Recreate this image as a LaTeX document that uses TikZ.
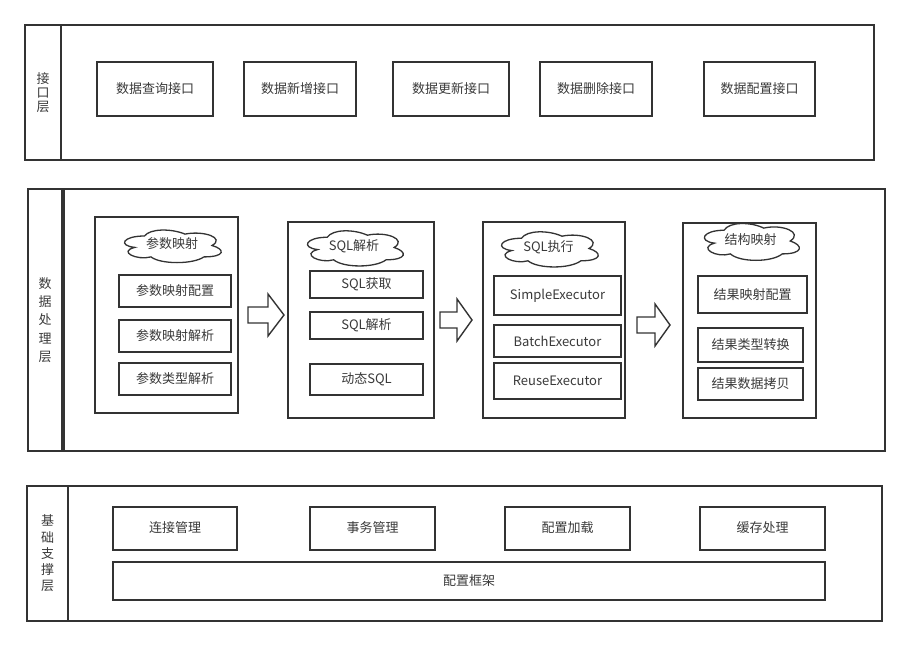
\documentclass[tikz,border=0pt]{standalone}
\usepackage{fontspec}
\newfontfamily\cjk{Noto Sans CJK SC}
\definecolor{ln}{HTML}{333333}
\definecolor{tx}{HTML}{3A3A3A}
\tikzset{
  outer/.style={draw=ln, line width=2pt, rectangle, inner sep=0pt},
  panel/.style={draw=ln, line width=1.4pt, rectangle, inner sep=0pt},
  itembox/.style={draw=ln, line width=2pt, rectangle, inner sep=0pt, text=tx, font=\cjk\fontsize{13}{15}\selectfont},
  vlabel/.style={text=tx, align=center, inner sep=0pt},
  cloudtext/.style={inner sep=0pt, text=tx, font=\cjk\fontsize{13}{15}\selectfont},
  cloudline/.style={draw=ln, line width=1.3pt},
  blockarrow/.style={draw=ln, line width=1.4pt, fill=white, line join=miter},
}
\newcommand{\barrow}[4]{% x-left, y-center, head start, tip
  \draw[blockarrow] (#1,#2-8) -- (#3,#2-8) -- (#3,#2-21) -- (#4,#2) -- (#3,#2+21) -- (#3,#2+8) -- (#1,#2+8) -- cycle;}
% cloud outline: center x, center y, width, height (bounding box)
\newcommand{\cloudpath}[4]{%
  \begin{scope}[shift={(#1-#3/2,#2-#4/2)}, x={(#3pt,0pt)}, y={(0pt,-#4pt)}]
  \draw[cloudline] (0.25,0.25) .. controls (0.05,0.25) and (0,0.5) .. (0.16,0.55)
    .. controls (0,0.66) and (0.18,0.9) .. (0.31,0.8)
    .. controls (0.4,1) and (0.7,1) .. (0.8,0.8)
    .. controls (1,0.8) and (1,0.6) .. (0.875,0.5)
    .. controls (1,0.3) and (0.8,0.1) .. (0.625,0.2)
    .. controls (0.5,0.05) and (0.3,0.05) .. (0.25,0.25) -- cycle;
  \end{scope}}
\begin{document}
\begin{tikzpicture}[x=1pt,y=-1pt]
\useasboundingbox[fill=white] (0,0) rectangle (910,645);

% ---- Layer 1
\node[outer, minimum width=36, minimum height=135] (l1) at (43,92.5) {};
\node[outer, minimum width=813, minimum height=135] (m1) at (467.5,92.5) {};
\node[vlabel, font=\cjk\fontsize{13}{14}\selectfont] (t1) at (l1.center) {接\\口\\层};
\node[itembox, minimum width=116, minimum height=54] (q) at (155,89) {数据查询接口};
\node[itembox, minimum width=112, minimum height=54] (a) at (300,89) {数据新增接口};
\node[itembox, minimum width=116, minimum height=54] (u) at (451,89) {数据更新接口};
\node[itembox, minimum width=112, minimum height=54] (d) at (596,89) {数据删除接口};
\node[itembox, minimum width=111, minimum height=54] (c) at (759.5,89) {数据配置接口};

% ---- Layer 2
\node[outer, minimum width=34, minimum height=262] (l2) at (45,320) {};
\node[outer, minimum width=821, minimum height=262] (m2) at (474.5,320) {};
\node[vlabel, font=\cjk\fontsize{13}{18.25}\selectfont] (t2) at (l2.center) {数\\据\\处\\理\\层};

% panel 1
\node[panel, minimum width=143, minimum height=196] (p1) at (166.5,315) {};
\cloudpath{171.5}{245.5}{108}{38}
\node[cloudtext] (c1) at (172,244) {参数映射};
\node[itembox, minimum width=112, minimum height=32] (p1a) at (175,291) {参数映射配置};
\node[itembox, minimum width=112, minimum height=32] (p1b) at (175,336) {参数映射解析};
\node[itembox, minimum width=112, minimum height=32] (p1c) at (175,379) {参数类型解析};

% panel 2
\node[panel, minimum width=146, minimum height=196] (p2) at (361,320) {};
\cloudpath{354}{247.5}{107}{41}
\node[cloudtext] (c2) at (354,246) {SQL解析};
\node[itembox, minimum width=113, minimum height=27] (p2a) at (366.5,284) {SQL获取};
\node[itembox, minimum width=113, minimum height=27] (p2b) at (366.5,325) {SQL解析};
\node[itembox, minimum width=113, minimum height=31] (p2c) at (366.5,379.5) {动态SQL};

% panel 3
\node[panel, minimum width=142, minimum height=196] (p3) at (554,320) {};
\cloudpath{548.5}{248.5}{108}{41}
\node[cloudtext] (c3) at (548.5,247) {SQL执行};
\node[itembox, minimum width=127, minimum height=39] (p3a) at (557.5,295.5) {SimpleExecutor};
\node[itembox, minimum width=127, minimum height=32] (p3b) at (557.5,341) {BatchExecutor};
\node[itembox, minimum width=127, minimum height=36] (p3c) at (557.5,381) {ReuseExecutor};

% panel 4
\node[panel, minimum width=133, minimum height=195] (p4) at (749.5,320.5) {};
\cloudpath{750.5}{241}{106}{43}
\node[cloudtext] (c4) at (750.5,239.5) {结构映射};
\node[itembox, minimum width=109, minimum height=37] (p4a) at (752.5,294.5) {结果映射配置};
\node[itembox, minimum width=105, minimum height=34] (p4b) at (750.5,345) {结果类型转换};
\node[itembox, minimum width=105, minimum height=32] (p4c) at (750.5,384) {结果数据拷贝};

% block arrows
\barrow{248}{315}{268}{284}
\barrow{440}{320}{457}{472}
\barrow{637}{325}{655}{670}

% ---- Layer 3
\node[outer, minimum width=41, minimum height=135] (l3) at (47.5,553.5) {};
\node[outer, minimum width=814, minimum height=135] (m3) at (475,553.5) {};
\node[vlabel, font=\cjk\fontsize{13}{16.25}\selectfont] (t3) at (l3.center) {基\\础\\支\\撑\\层};
\node[itembox, minimum width=124, minimum height=43] (b1) at (175,528) {连接管理};
\node[itembox, minimum width=125, minimum height=43] (b2) at (372.5,528) {事务管理};
\node[itembox, minimum width=125, minimum height=43] (b3) at (567.5,528) {配置加载};
\node[itembox, minimum width=125, minimum height=43] (b4) at (762.5,528) {缓存处理};
\node[itembox, minimum width=712, minimum height=38] (b5) at (469,581) {配置框架};
\end{tikzpicture}
\end{document}
